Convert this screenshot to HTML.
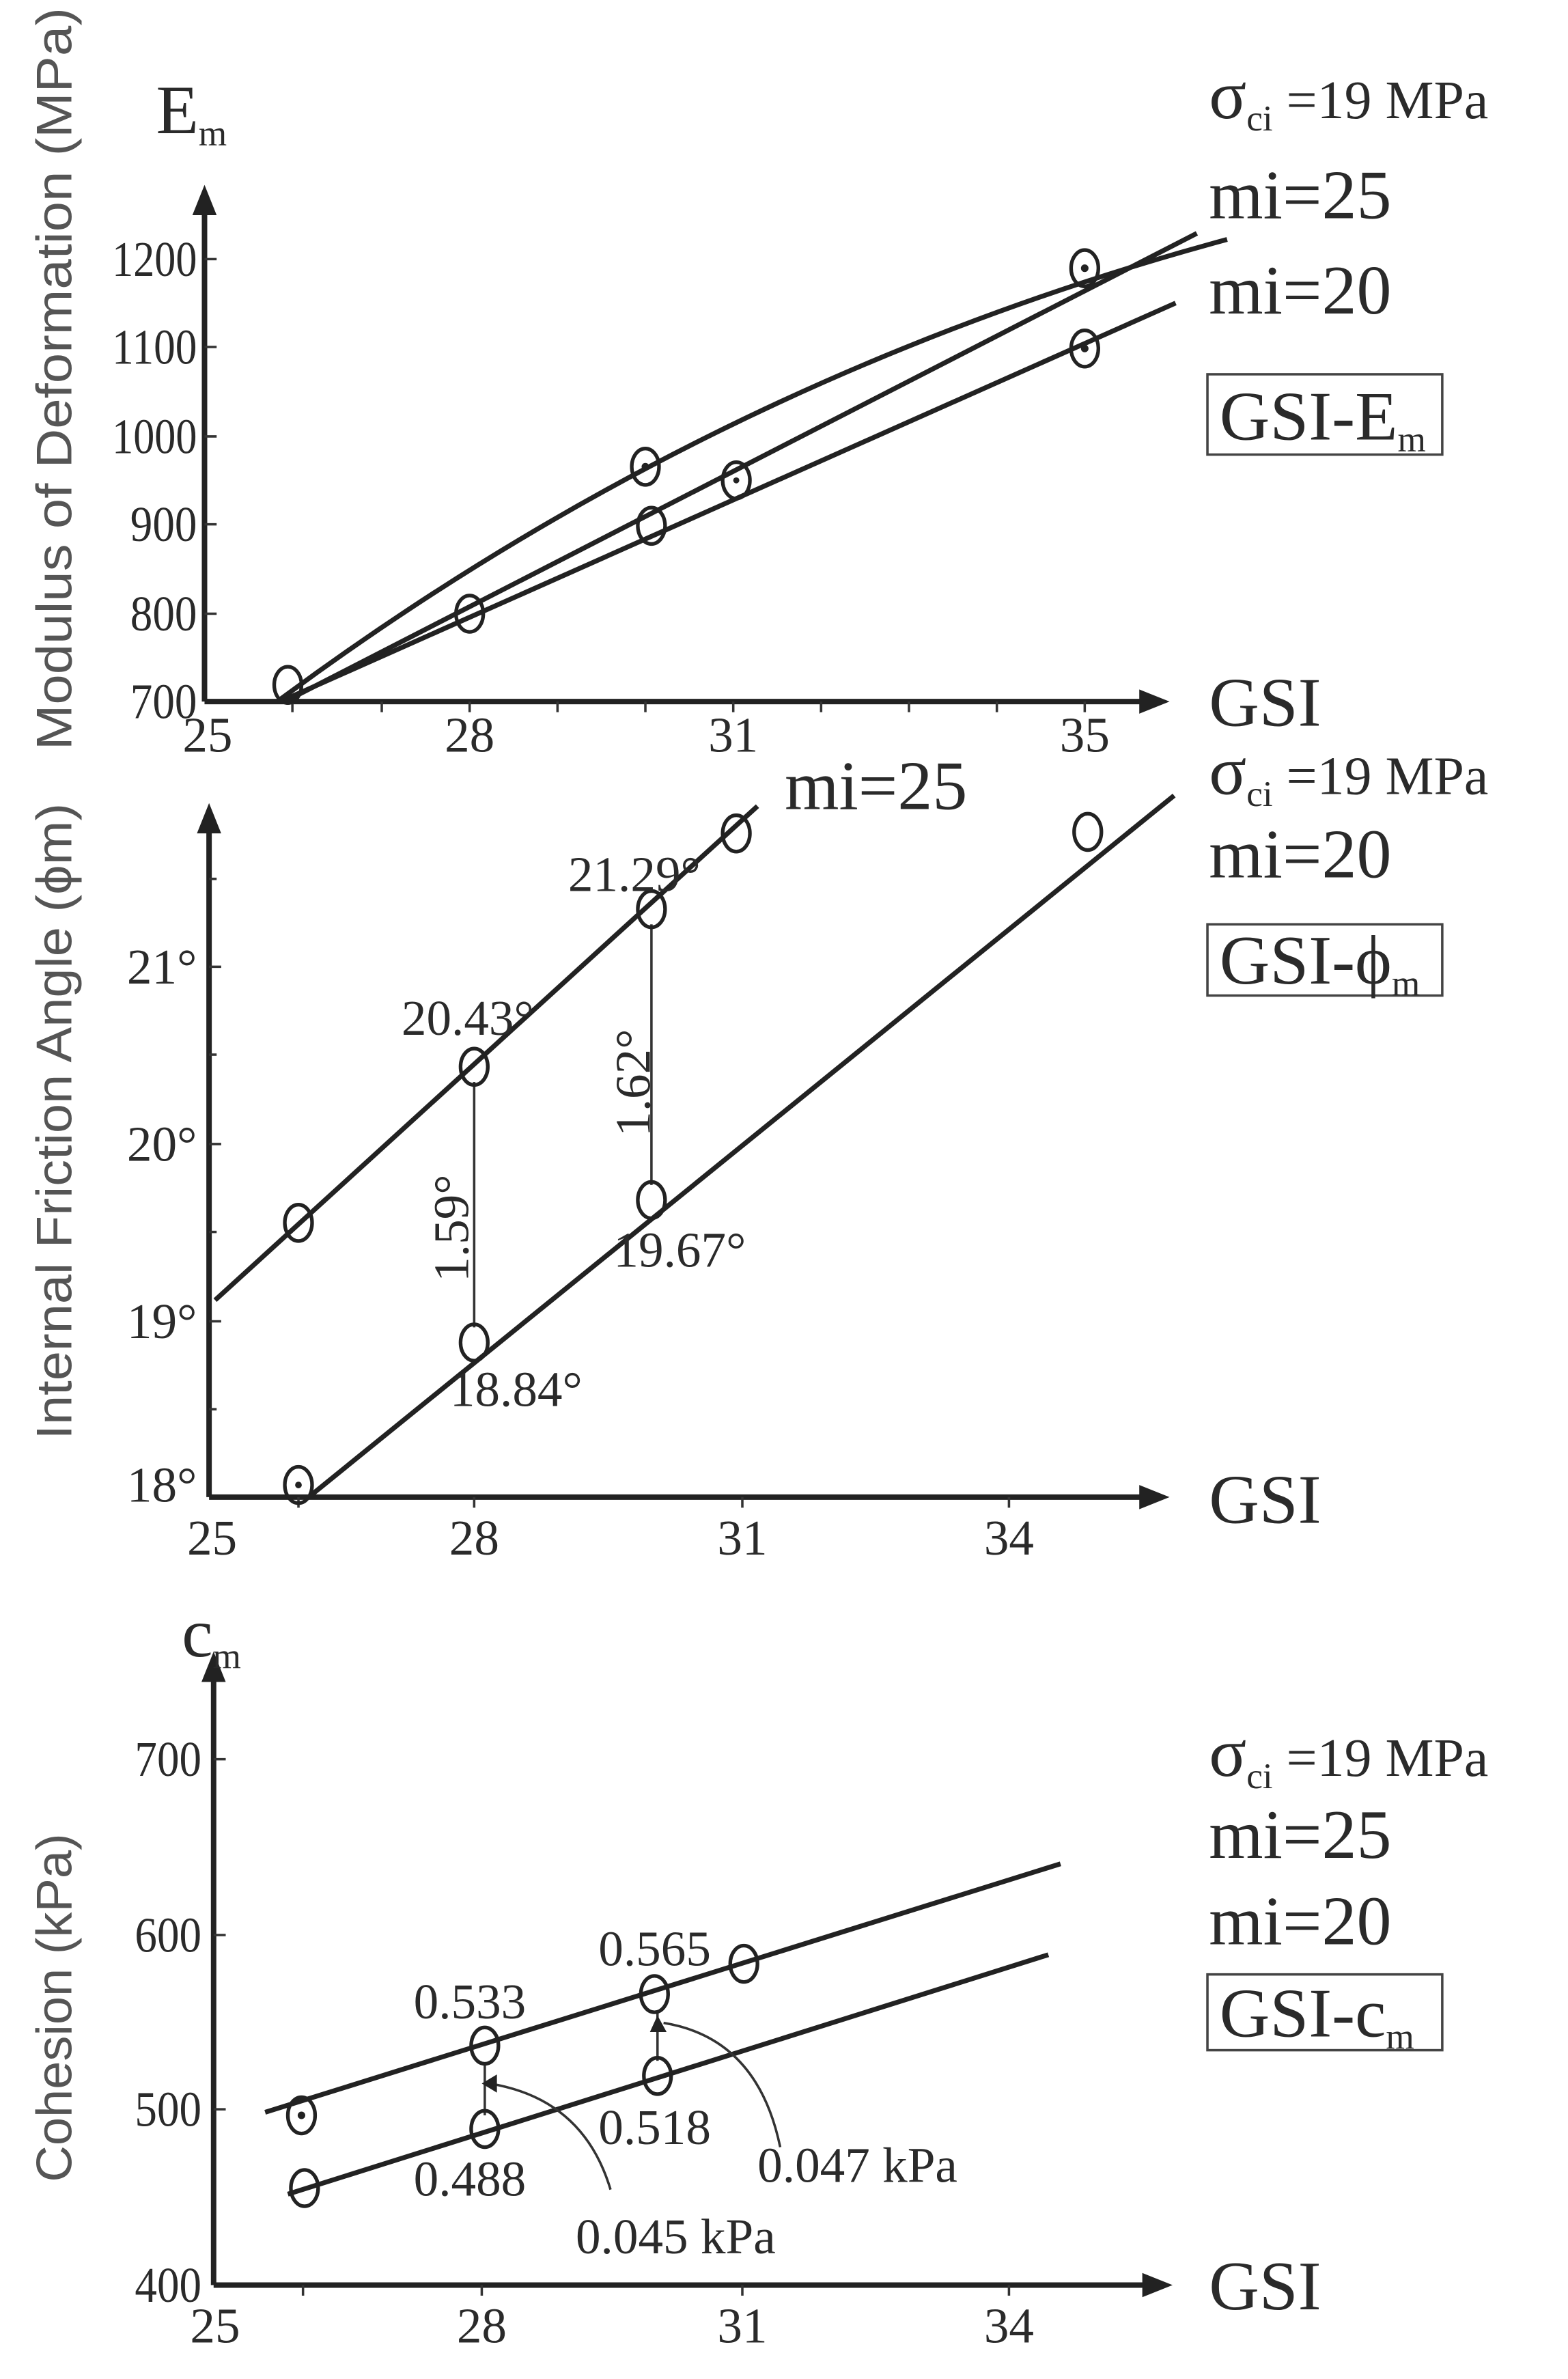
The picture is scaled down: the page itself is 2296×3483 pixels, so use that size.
<!DOCTYPE html>
<html><head><meta charset="utf-8"><style>
html,body{margin:0;padding:0;background:#fff}
svg{display:block}
text{font-family:"Liberation Serif",serif;fill:#2a2a2a}
.t{font-size:33px}
.r{font-size:46px}
.s{font-family:"Liberation Sans",sans-serif;font-size:33px;fill:#555}
.l{stroke:#222;stroke-width:3.2;fill:none}
.a{stroke:#222;stroke-width:3.6;fill:none}
.c{stroke:#222;stroke-width:2.4;fill:none}
.th{stroke:#333;stroke-width:1.6;fill:none}
</style></head><body>
<svg width="2296" height="3483" viewBox="0 0 1035 1570" preserveAspectRatio="none">
<!-- ============ Chart 1 ============ -->
<line class="a" x1="135" y1="463" x2="135" y2="140"/><polygon points="127,142 143,142 135,122" fill="#222"/>
<line class="a" x1="135" y1="463" x2="755" y2="463"/><polygon points="752,455 752,471 772,463" fill="#222"/>
<g class="th">
<line x1="135" y1="171" x2="143" y2="171"/><line x1="135" y1="229" x2="143" y2="229"/><line x1="135" y1="288" x2="143" y2="288"/><line x1="135" y1="346" x2="143" y2="346"/><line x1="135" y1="405" x2="143" y2="405"/>
<line x1="193" y1="463" x2="193" y2="470"/><line x1="252" y1="463" x2="252" y2="470"/><line x1="310" y1="463" x2="310" y2="470"/><line x1="368" y1="463" x2="368" y2="470"/><line x1="426" y1="463" x2="426" y2="470"/><line x1="484" y1="463" x2="484" y2="470"/><line x1="542" y1="463" x2="542" y2="470"/><line x1="600" y1="463" x2="600" y2="470"/><line x1="658" y1="463" x2="658" y2="470"/><line x1="716" y1="463" x2="716" y2="470"/>
</g>
<g class="t" text-anchor="end">
<text x="130" y="182" textLength="56" lengthAdjust="spacingAndGlyphs">1200</text><text x="130" y="240" textLength="56" lengthAdjust="spacingAndGlyphs">1100</text><text x="130" y="299" textLength="56" lengthAdjust="spacingAndGlyphs">1000</text><text x="130" y="357" textLength="44" lengthAdjust="spacingAndGlyphs">900</text><text x="130" y="416" textLength="44" lengthAdjust="spacingAndGlyphs">800</text><text x="130" y="474" textLength="44" lengthAdjust="spacingAndGlyphs">700</text>
</g>
<g class="t" text-anchor="middle">
<text x="137" y="496">25</text><text x="310" y="496">28</text><text x="484" y="496">31</text><text x="716" y="496">35</text>
</g>
<line class="l" x1="185" y1="463" x2="776" y2="200"/>
<line class="l" x1="188" y1="463" x2="790" y2="154"/>
<path class="l" d="M183,463 Q470,250 810,158"/>
<g class="c">
<ellipse cx="190" cy="452" rx="9" ry="12"/><ellipse cx="310" cy="405" rx="9" ry="12"/><ellipse cx="426" cy="308" rx="9" ry="12"/><ellipse cx="430" cy="347" rx="9" ry="12"/><ellipse cx="486" cy="317" rx="9" ry="12"/><ellipse cx="716" cy="177" rx="9" ry="12"/><ellipse cx="716" cy="230" rx="9" ry="12"/>
</g>
<g fill="#222"><circle cx="426" cy="308" r="2.5"/><circle cx="716" cy="177" r="2.5"/><circle cx="716" cy="230" r="2.5"/><circle cx="486" cy="317" r="2"/></g>
<text class="r" x="103" y="88">E<tspan font-size="24" dy="8">m</tspan></text>
<text class="s" transform="translate(47,250) rotate(-90)" text-anchor="middle" textLength="490" lengthAdjust="spacingAndGlyphs">Modulus of Deformation (MPa)</text>
<text class="r" x="798" y="78">σ<tspan font-size="24" dy="8">ci</tspan><tspan font-size="36" dy="-8"> =19 MPa</tspan></text>
<text class="r" x="798" y="144">mi=25</text>
<text class="r" x="798" y="207">mi=20</text>
<rect x="797" y="247" width="155" height="53" fill="none" stroke="#444" stroke-width="1.6"/>
<text class="r" x="805" y="290">GSI-E<tspan font-size="24" dy="8">m</tspan></text>
<text class="r" x="798" y="479">GSI</text>

<!-- ============ Chart 2 ============ -->
<line class="a" x1="138" y1="988" x2="138" y2="548"/><polygon points="130,550 146,550 138,530" fill="#222"/>
<line class="a" x1="138" y1="988" x2="755" y2="988"/><polygon points="752,980 752,996 772,988" fill="#222"/>
<g class="th">
<line x1="138" y1="638" x2="146" y2="638"/><line x1="138" y1="755" x2="146" y2="755"/><line x1="138" y1="872" x2="146" y2="872"/>
<line x1="138" y1="580" x2="143" y2="580"/><line x1="138" y1="696" x2="143" y2="696"/><line x1="138" y1="813" x2="143" y2="813"/><line x1="138" y1="930" x2="143" y2="930"/>
<line x1="197" y1="988" x2="197" y2="995"/><line x1="313" y1="988" x2="313" y2="995"/><line x1="490" y1="988" x2="490" y2="995"/><line x1="666" y1="988" x2="666" y2="995"/>
</g>
<g class="t" text-anchor="end">
<text x="130" y="649">21°</text><text x="130" y="766">20°</text><text x="130" y="883">19°</text><text x="130" y="991">18°</text>
</g>
<g class="t" text-anchor="middle">
<text x="140" y="1026">25</text><text x="313" y="1026">28</text><text x="490" y="1026">31</text><text x="666" y="1026">34</text>
</g>
<line class="l" x1="142" y1="858" x2="500" y2="532"/>
<line class="l" x1="205" y1="987" x2="775" y2="525"/>
<line class="th" x1="313" y1="714" x2="313" y2="876"/>
<line class="th" x1="430" y1="610" x2="430" y2="782"/>
<g class="c">
<ellipse cx="197" cy="807" rx="9" ry="12"/><ellipse cx="313" cy="704" rx="9" ry="12"/><ellipse cx="430" cy="600" rx="9" ry="12"/><ellipse cx="486" cy="550" rx="9" ry="12"/>
<ellipse cx="197" cy="980" rx="9" ry="12"/><ellipse cx="313" cy="886" rx="9" ry="12"/><ellipse cx="430" cy="792" rx="9" ry="12"/><ellipse cx="718" cy="549" rx="9" ry="12"/>
</g>
<circle cx="197" cy="980" r="2.2" fill="#222"/>
<g class="t">
<text x="375" y="588">21.29°</text><text x="265" y="683">20.43°</text><text x="405" y="836">19.67°</text><text x="297" y="928">18.84°</text>
<text transform="translate(429,750) rotate(-90)">1.62°</text>
<text transform="translate(309,846) rotate(-90)">1.59°</text>
</g>
<text class="r" x="518" y="534">mi=25</text>
<text class="s" transform="translate(47,740) rotate(-90)" text-anchor="middle" textLength="420" lengthAdjust="spacingAndGlyphs">Internal Friction Angle (ϕm)</text>
<text class="r" x="798" y="524">σ<tspan font-size="24" dy="8">ci</tspan><tspan font-size="36" dy="-8"> =19 MPa</tspan></text>
<text class="r" x="798" y="579">mi=20</text>
<rect x="797" y="610" width="155" height="47" fill="none" stroke="#444" stroke-width="1.6"/>
<text class="r" x="805" y="649">GSI-ϕ<tspan font-size="24" dy="8">m</tspan></text>
<text class="r" x="798" y="1005">GSI</text>

<!-- ============ Chart 3 ============ -->
<line class="a" x1="141" y1="1508" x2="141" y2="1108"/><polygon points="133,1110 149,1110 141,1090" fill="#222"/>
<line class="a" x1="141" y1="1508" x2="757" y2="1508"/><polygon points="754,1500 754,1516 774,1508" fill="#222"/>
<g class="th">
<line x1="141" y1="1161" x2="149" y2="1161"/><line x1="141" y1="1277" x2="149" y2="1277"/><line x1="141" y1="1392" x2="149" y2="1392"/>
<line x1="200" y1="1508" x2="200" y2="1515"/><line x1="318" y1="1508" x2="318" y2="1515"/><line x1="490" y1="1508" x2="490" y2="1515"/><line x1="666" y1="1508" x2="666" y2="1515"/>
</g>
<g class="t" text-anchor="end">
<text x="133" y="1172" textLength="44" lengthAdjust="spacingAndGlyphs">700</text><text x="133" y="1288" textLength="44" lengthAdjust="spacingAndGlyphs">600</text><text x="133" y="1403" textLength="44" lengthAdjust="spacingAndGlyphs">500</text><text x="133" y="1519" textLength="44" lengthAdjust="spacingAndGlyphs">400</text>
</g>
<g class="t" text-anchor="middle">
<text x="142" y="1546">25</text><text x="318" y="1546">28</text><text x="490" y="1546">31</text><text x="666" y="1546">34</text>
</g>
<line class="l" x1="175" y1="1394" x2="700" y2="1230"/>
<line class="l" x1="190" y1="1448" x2="692" y2="1290"/>
<line class="th" x1="320" y1="1362" x2="320" y2="1396"/>
<line class="th" x1="434" y1="1328" x2="434" y2="1360"/>
<path class="th" d="M403,1445 Q385,1385 323,1375"/><polygon points="318,1375 328,1369 328,1381" fill="#222"/>
<path class="th" d="M515,1417 Q500,1345 438,1335"/><polygon points="434,1330 429,1341 440,1341" fill="#222"/>
<g class="c">
<ellipse cx="199" cy="1396" rx="9" ry="12"/><ellipse cx="320" cy="1350" rx="9" ry="12"/><ellipse cx="432" cy="1316" rx="9" ry="12"/><ellipse cx="491" cy="1296" rx="9" ry="12"/>
<ellipse cx="201" cy="1444" rx="9" ry="12"/><ellipse cx="320" cy="1405" rx="9" ry="12"/><ellipse cx="434" cy="1370" rx="9" ry="12"/>
</g>
<circle cx="199" cy="1396" r="2.5" fill="#222"/>
<g class="t">
<text x="273" y="1332">0.533</text><text x="395" y="1297">0.565</text><text x="395" y="1415">0.518</text><text x="273" y="1449">0.488</text>
<text x="500" y="1440">0.047 kPa</text><text x="380" y="1487">0.045 kPa</text>
</g>
<text class="r" x="120" y="1093">c<tspan font-size="24" dy="8">m</tspan></text>
<text class="s" transform="translate(47,1325) rotate(-90)" text-anchor="middle" textLength="230" lengthAdjust="spacingAndGlyphs">Cohesion (kPa)</text>
<text class="r" x="798" y="1172">σ<tspan font-size="24" dy="8">ci</tspan><tspan font-size="36" dy="-8"> =19 MPa</tspan></text>
<text class="r" x="798" y="1226">mi=25</text>
<text class="r" x="798" y="1283">mi=20</text>
<rect x="797" y="1303" width="155" height="50" fill="none" stroke="#444" stroke-width="1.6"/>
<text class="r" x="805" y="1344">GSI-c<tspan font-size="24" dy="8">m</tspan></text>
<text class="r" x="798" y="1524">GSI</text>
</svg>
</body></html>
